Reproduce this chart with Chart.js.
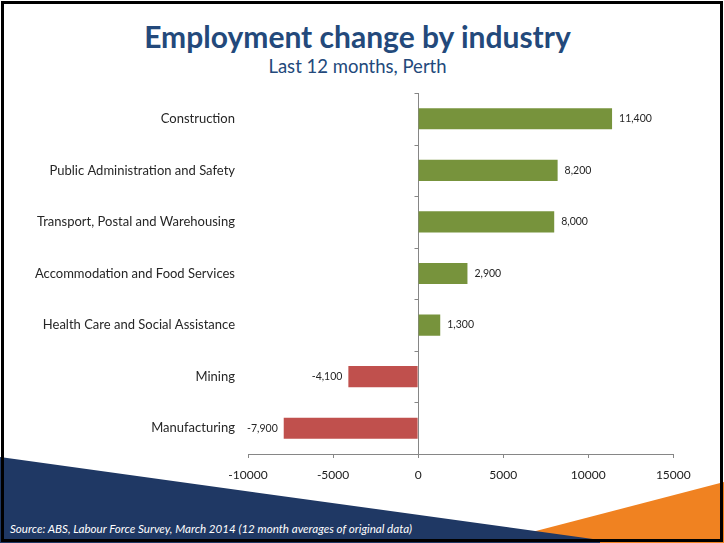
<!DOCTYPE html>
<html>
<head>
<meta charset="utf-8">
<title>Employment change by industry</title>
<script src="https://cdn.jsdelivr.net/npm/chart.js@4/dist/chart.umd.min.js"></script>
<style>
  html, body { margin: 0; padding: 0; background: #fff; }
  #slide { position: relative; width: 724px; height: 543px; overflow: hidden; background: #fff; }
  .shape { position: absolute; left: 0; top: 0; width: 724px; height: 543px; }
  #orange { background: #F08221; clip-path: polygon(490px 543px, 724px 482px, 724px 543px); }
  #blue { background: #1F3864; clip-path: polygon(0 457px, 600px 540px, 600px 543px, 0 543px); }
  #frame { position: absolute; left: 1px; top: 1px; width: 716px; height: 535px; border: 3px solid #000; }
  .txt { position: absolute; left: 0; width: 715px; text-align: center; font-family: Lato, "Open Sans", sans-serif; color: #23497B; white-space: nowrap; }
  #title { top: 21px; font-size: 30px; line-height: 30px; font-weight: bold; }
  #subtitle { top: 57px; font-size: 18.5px; line-height: 18.5px; }
  #source { position: absolute; left: 10px; top: 522.5px; font-family: Lato, "Open Sans", sans-serif; font-style: italic; font-size: 11.6px; line-height: 11.6px; color: #fff; white-space: nowrap; }
  #chart { position: absolute; left: 0; top: 0; }
</style>
</head>
<body>
<div id="slide">
  <div class="shape" id="orange"></div>
  <div class="shape" id="blue"></div>
  <div class="txt" id="title">Employment change by industry</div>
  <div class="txt" id="subtitle">Last 12 months, Perth</div>
  <div id="source">Source: ABS, Labour Force Survey, March 2014 (12 month averages of original data)</div>
  <canvas id="chart" width="724" height="543"></canvas>
  <div id="frame"></div>
</div>
<script>
// Industries, top to bottom
const industries = [
  'Construction',
  'Public Administration and Safety',
  'Transport, Postal and Warehousing',
  'Accommodation and Food Services',
  'Health Care and Social Assistance',
  'Mining',
  'Manufacturing'
];
// Change in employed persons over the last 12 months
const employmentChange = [11400, 8200, 8000, 2900, 1300, -4100, -7900];
// Horizontal axis ticks
const xTickValues = [-10000, -5000, 0, 5000, 10000, 15000];

const GREEN = '#77933C';
const RED = '#C0504D';
const AXIS = '#868686';
const TEXT = '#262626';
const FONT = 'Lato, "Open Sans", sans-serif';

// Zero line tick marks between categories
const zeroAxisTicks = {
  id: 'zeroAxisTicks',
  beforeDatasetsDraw(chart) {
    const { ctx, scales: { x, y }, chartArea } = chart;
    const x0 = Math.round(x.getPixelForValue(0)) + 0.5;
    const n = industries.length;
    ctx.save();
    ctx.strokeStyle = AXIS;
    ctx.lineWidth = 1;
    ctx.beginPath();
    for (let i = 0; i <= n; i++) {
      let yy;
      if (i === 0) yy = chartArea.top;
      else if (i === n) yy = chartArea.bottom;
      else yy = (y.getPixelForValue(i - 1) + y.getPixelForValue(i)) / 2;
      yy = Math.round(yy) + 0.5;
      ctx.moveTo(x0 - 4, yy);
      ctx.lineTo(x0, yy);
    }
    ctx.stroke();
    ctx.restore();
  }
};

// Value labels at the end of each bar
const valueLabels = {
  id: 'valueLabels',
  afterDatasetsDraw(chart) {
    const { ctx } = chart;
    const meta = chart.getDatasetMeta(0);
    ctx.save();
    ctx.font = '10.5px ' + FONT;
    ctx.fillStyle = TEXT;
    ctx.textBaseline = 'middle';
    meta.data.forEach((bar, i) => {
      const v = employmentChange[i];
      const label = v.toLocaleString('en-US');
      if (v >= 0) {
        ctx.textAlign = 'left';
        ctx.fillText(label, bar.x + 7, bar.y);
      } else {
        ctx.textAlign = 'right';
        ctx.fillText(label, bar.x - 6, bar.y);
      }
    });
    ctx.restore();
  }
};

new Chart(document.getElementById('chart'), {
  type: 'bar',
  data: {
    labels: industries,
    datasets: [{
      data: employmentChange,
      backgroundColor: employmentChange.map(v => v >= 0 ? GREEN : RED),
      borderWidth: 0,
      barPercentage: 0.41,
      categoryPercentage: 1
    }]
  },
  options: {
    indexAxis: 'y',
    responsive: false,
    animation: false,
    devicePixelRatio: 1,
    layout: { padding: { left: 0, right: 50.7, top: 93, bottom: 49 } },
    plugins: {
      legend: { display: false },
      title: { display: false },
      tooltip: { enabled: false }
    },
    scales: {
      x: {
        type: 'linear',
        min: -10000,
        max: 15000,
        afterBuildTicks(scale) {
          scale.ticks = xTickValues.map(v => ({ value: v }));
        },
        afterFit(scale) { scale.height = 40; },
        border: { display: true, color: AXIS, width: 1 },
        grid: {
          drawOnChartArea: true,
          color: ctx => (ctx.tick && ctx.tick.value === 0) ? AXIS : 'rgba(0,0,0,0)',
          tickColor: AXIS,
          tickLength: 4,
          lineWidth: 1
        },
        ticks: {
          padding: 10,
          maxRotation: 0,
          autoSkip: false,
          color: '#1a1a1a',
          font: { family: FONT, size: 12 },
          callback: v => String(v)
        }
      },
      y: {
        afterFit(scale) { scale.width = 248; },
        border: { display: false },
        grid: { display: false, drawTicks: false },
        ticks: {
          padding: 13,
          color: TEXT,
          font: { family: FONT, size: 13 }
        }
      }
    }
  },
  plugins: [zeroAxisTicks, valueLabels]
});
</script>
</body>
</html>
